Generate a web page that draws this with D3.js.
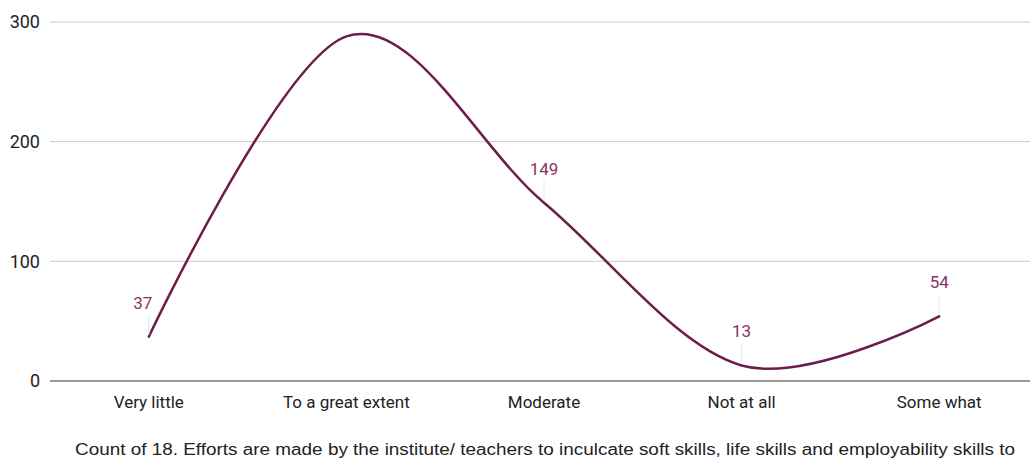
<!DOCTYPE html>
<html>
<head>
<meta charset="utf-8">
<script src="https://cdn.jsdelivr.net/npm/d3@7"></script>
<style>
  body { margin: 0; background: #fff; }
  text { font-family: Roboto, Arial, sans-serif; }
</style>
</head>
<body>
<script>
const categories = ['Very little', 'To a great extent', 'Moderate', 'Not at all', 'Some what'];
const counts = [37, 288, 149, 13, 54];
const showLabel = [true, false, true, true, true];
const yTicks = [0, 100, 200, 300];
const title = 'Count of 18. Efforts are made by the institute/ teachers to inculcate soft skills, life skills and employability skills to';

const width = 1030, height = 460;
const plotLeft = 50, plotRight = 1038, plotTop = 22, plotBottom = 381;

const svg = d3.select('body').append('svg')
  .attr('width', width)
  .attr('height', height);

const x = d3.scalePoint()
  .domain(categories)
  .range([plotLeft, plotRight])
  .padding(0.5);

const y = d3.scaleLinear()
  .domain([0, 300])
  .range([plotBottom, plotTop]);

// gridlines
svg.append('g')
  .selectAll('line')
  .data(yTicks.filter(d => d > 0))
  .enter().append('line')
  .attr('x1', plotLeft).attr('x2', width)
  .attr('y1', d => y(d)).attr('y2', d => y(d))
  .attr('stroke', '#cccccc')
  .attr('stroke-width', 1);

// y tick labels
svg.append('g')
  .selectAll('text')
  .data(yTicks)
  .enter().append('text')
  .attr('x', 40)
  .attr('y', d => y(d))
  .attr('dy', '0.35em')
  .attr('text-anchor', 'end')
  .attr('font-size', 18)
  .attr('fill', '#222')
  .text(d => d);

// baseline
svg.append('line')
  .attr('x1', plotLeft).attr('x2', width)
  .attr('y1', y(0)).attr('y2', y(0))
  .attr('stroke', '#333')
  .attr('stroke-width', 1);

// category labels
svg.append('g')
  .selectAll('text')
  .data(categories)
  .enter().append('text')
  .attr('x', d => x(d))
  .attr('y', 408)
  .attr('text-anchor', 'middle')
  .attr('font-size', 17)
  .attr('fill', '#222')
  .text(d => d);

const pts = categories.map((c, i) => ({ c: c, v: counts[i], show: showLabel[i] }));

// the curve
const line = d3.line()
  .x(d => x(d.c))
  .y(d => y(d.v))
  .curve(d3.curveCardinal.tension(0));

svg.append('path')
  .datum(pts)
  .attr('d', line)
  .attr('fill', 'none')
  .attr('stroke', '#6e1c4b')
  .attr('stroke-width', 2.5)
  .attr('stroke-linecap', 'round');

// data labels with leader lines
const lbl = svg.append('g')
  .selectAll('g')
  .data(pts.filter(d => d.show))
  .enter().append('g');

lbl.append('line')
  .attr('x1', d => x(d.c)).attr('x2', d => x(d.c))
  .attr('y1', d => y(d.v) - 2).attr('y2', d => y(d.v) - 22)
  .attr('stroke', '#e6e6e6')
  .attr('stroke-width', 1);

lbl.append('text')
  .attr('x', d => x(d.c) - (d.c === 'Very little' ? 6 : 0))
  .attr('y', d => y(d.v) - 28)
  .attr('text-anchor', 'middle')
  .attr('font-size', 17)
  .attr('fill', '#8a3366')
  .text(d => d.v);

// title
svg.append('text')
  .attr('x', 75)
  .attr('y', 455)
  .style('font-family', '"Liberation Sans", Arial, sans-serif')
  .attr('font-size', 16)
  .attr('fill', '#222')
  .attr('textLength', 940)
  .attr('lengthAdjust', 'spacingAndGlyphs')
  .text(title);
</script>
</body>
</html>
